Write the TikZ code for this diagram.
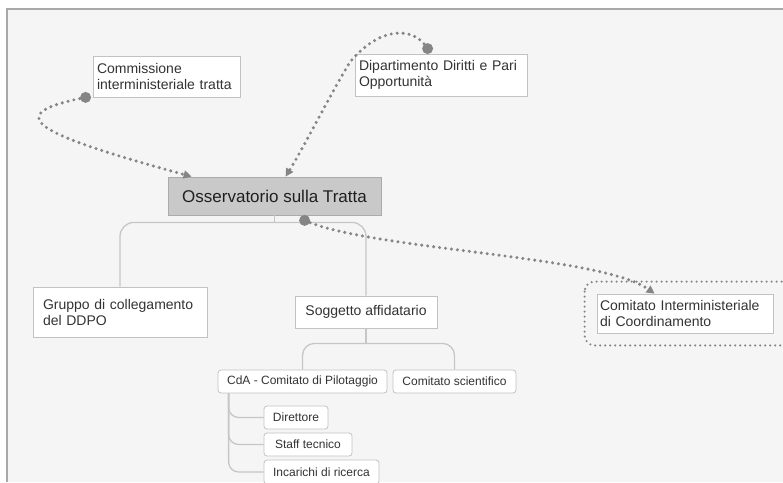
\documentclass[tikz,border=0pt]{standalone}
\usepackage{fontspec}
\setmainfont{Liberation Sans}
\usetikzlibrary{arrows.meta,calc}
\definecolor{bgc}{HTML}{F5F5F5}
\definecolor{framec}{HTML}{A8A8A8}
\definecolor{boxb}{HTML}{C2C2C2}
\definecolor{txt}{HTML}{333333}
\definecolor{obsfill}{HTML}{C9C9C9}
\definecolor{obsb}{HTML}{ABABAB}
\definecolor{dotc}{HTML}{858585}
\definecolor{treec}{HTML}{C6C6C6}
\begin{document}
\begin{tikzpicture}[x=1pt,y=-1pt,
 box/.style={draw=boxb, fill=white, line width=0.8pt, text=txt, inner xsep=4pt, inner ysep=0pt, align=left, font=\fontsize{14}{16}\selectfont},
 smallbox/.style={draw=boxb, fill=white, line width=0.8pt, rounded corners=3pt, text=txt, inner sep=0pt, align=center, font=\fontsize{12}{14}\selectfont},
 mainbox/.style={draw=obsb, fill=obsfill, line width=0.8pt, text=black!88, inner sep=0pt, align=center, font=\fontsize{17}{20}\selectfont},
 tree/.style={draw=treec, line width=1.3pt},
 dotline/.style={draw=dotc, line width=3.4pt, line cap=round, dash pattern=on 0pt off 6pt},
 framedot/.style={draw=dotc, line width=2.4pt, line cap=round, dash pattern=on 0pt off 5pt},
 tipend/.style={-{Triangle[length=8pt,width=8pt]}}
]
\useasboundingbox (0,0) rectangle (783,482);
\clip (0,0) rectangle (783,482);
\fill[white] (0,0) rectangle (783,482);
\fill[bgc] (7,9) rectangle (783,482);
\draw[framec, line width=1.2pt] (7,482) -- (7,9) -- (783,9);

% nodes
\node[box, minimum width=147pt, minimum height=41pt, text width=139pt] (comm) at (166.5,76.5) {Commissione\\interministeriale tratta};
\node[box, minimum width=172pt, minimum height=42pt, text width=164pt] (dip) at (441,75) {Dipartimento Diritti e Pari\\Opportunità};
\node[mainbox, minimum width=213pt, minimum height=38pt] (obs) at (274.5,196) {Osservatorio sulla Tratta};
\node[box, minimum width=174pt, minimum height=50pt, inner xsep=10pt, text width=154pt] (grp) at (120,312) {Gruppo di collegamento\\del DDPO};
\node[box, minimum width=142pt, minimum height=32pt, align=center] (sog) at (366,312) {Soggetto affidatario};
\node[box, minimum width=176pt, minimum height=39pt, inner xsep=3pt, text width=170pt] (cim) at (685,313.5) {Comitato Interministeriale\\di Coordinamento};
\node[smallbox, minimum width=169pt, minimum height=23pt] (cda) at (302.5,381.5) {CdA - Comitato di Pilotaggio};
\node[smallbox, minimum width=123pt, minimum height=23pt] (csc) at (454.5,381.5) {Comitato scientifico};
\node[smallbox, minimum width=64pt, minimum height=23pt] (dir) at (296,417.5) {Direttore};
\node[smallbox, minimum width=88pt, minimum height=23pt] (stf) at (308,444.5) {Staff tecnico};
\node[smallbox, minimum width=115pt, minimum height=24pt] (inc) at (321.5,472) {Incarichi di ricerca};

% tree connectors
\coordinate (b1) at ([yshift=-7pt]obs.south);
\draw[tree] (obs.south) -- (b1);
\draw[tree, rounded corners=14pt] (grp.north) -- (grp.north |- b1) -- (sog.north |- b1) -- (sog.north);
\coordinate (b2) at ([yshift=-15pt]sog.south);
\draw[tree] (sog.south) -- (b2);
\draw[tree, rounded corners=12pt] (cda.north) -- (cda.north |- b2) -- (csc.north |- b2) -- (csc.north);
\coordinate (cdv) at ([xshift=11pt]cda.south west);
\draw[tree, rounded corners=10pt] (cdv) |- (dir.west);
\draw[tree, rounded corners=10pt] (cdv) |- (stf.west);
\draw[tree, rounded corners=10pt] (cdv) |- (inc.west);

% dotted frame around Comitato Interministeriale
\draw[framedot, rounded corners=10pt] ([xshift=-12pt,yshift=12pt]cim.north west) rectangle ([xshift=30pt,yshift=-12pt]cim.south east);

% dotted relations
\coordinate (s1) at ([xshift=-7pt]comm.south west);
\coordinate (e1) at ([xshift=24pt]obs.north west);
\coordinate (s2) at ([xshift=73pt,yshift=5pt]dip.north west);
\coordinate (e2) at ([xshift=118pt]obs.north west);
\coordinate (s3) at ([xshift=137pt,yshift=-5pt]obs.south west);
\coordinate (e3) at ([xshift=58pt]cim.north west);

\draw[dotline, tipend] (s1) .. controls (-5,115) and (40,135) .. (e1);
\draw[dotline, tipend] (s2) .. controls (414,26) and (380,26) .. (350,62) .. controls (330,95) and (305,145) .. (e2);
\draw[dotline, tipend] (s3) .. controls (370,250) and (600,255) .. (e3);
\fill[dotc] (s1) circle (5.5pt);
\fill[dotc] (s2) circle (5.5pt);
\fill[dotc] (s3) circle (5.5pt);
\end{tikzpicture}
\end{document}
